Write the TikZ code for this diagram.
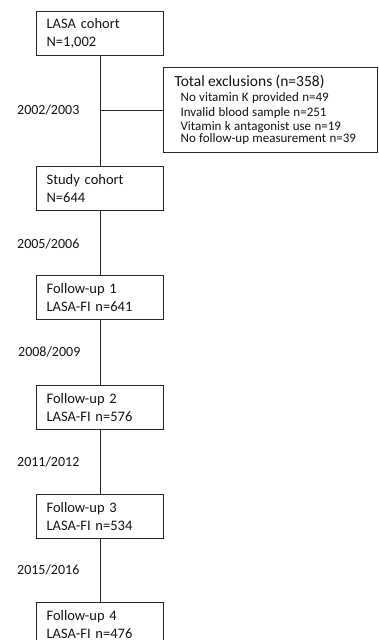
\documentclass[tikz,border=0pt]{standalone}
\usepackage{fontspec}
\setmainfont{Carlito}
\begin{document}
\begin{tikzpicture}[x=1pt,y=-1pt,
  every node/.style={text=black!92},
  stagebox/.style={draw=black!85, line width=1.2pt, anchor=north west, minimum width=127pt, minimum height=44pt, text width=107pt, inner sep=0pt, align=left, font=\fontsize{14.5}{17.5}\selectfont},
  exclbox/.style={draw=black!85, line width=1.2pt, anchor=north west, minimum width=214pt, minimum height=85pt, text width=192pt, inner xsep=11pt, inner ysep=0pt, align=left},
  yearlbl/.style={anchor=west, inner sep=0pt, font=\fontsize{14}{16}\selectfont},
  link/.style={draw=black!85, line width=1.2pt}
]
\useasboundingbox (0,0) rectangle (379,640);
\fill[white] (0,0) rectangle (379,640);

\node[stagebox] (b1) at (36,11) {LASA cohort\\N=1,002};
\node[stagebox] (b2) at (36,166) {Study cohort\\N=644};
\node[stagebox] (f1) at (36,275) {Follow-up 1\\LASA-FI n=641};
\node[stagebox] (f2) at (36,385) {Follow-up 2\\LASA-FI n=576};
\node[stagebox] (f3) at (36,494) {Follow-up 3\\LASA-FI n=534};
\node[stagebox] (f4) at (36,602) {Follow-up 4\\LASA-FI n=476};

\node[exclbox] (excl) at (163,67) {{\fontsize{15.5}{16}\selectfont Total exclusions (n=358)}\\[0.5pt]
{\fontsize{13}{14.4}\selectfont\hspace*{6pt}No vitamin K provided n=49\\
\hspace*{6pt}Invalid blood sample n=251\\
\hspace*{6pt}Vitamin k antagonist use n=19\\
\hspace*{6pt}No follow-up measurement n=39}};

\node[yearlbl] (y1) at (17,110) {2002/2003};
\node[yearlbl] (y2) at (17,244) {2005/2006};
\node[yearlbl] (y3) at (18,352) {2008/2009};
\node[yearlbl] (y4) at (17,462) {2011/2012};
\node[yearlbl] (y5) at (17,570) {2015/2016};

\draw[link] (b1.south) -- (b2.north);
\draw[link] (excl.west) -- (excl.west -| b1.south);
\draw[link] (b2.south) -- (f1.north);
\draw[link] (f1.south) -- (f2.north);
\draw[link] (f2.south) -- (f3.north);
\draw[link] (f3.south) -- (f4.north);
\end{tikzpicture}
\end{document}
